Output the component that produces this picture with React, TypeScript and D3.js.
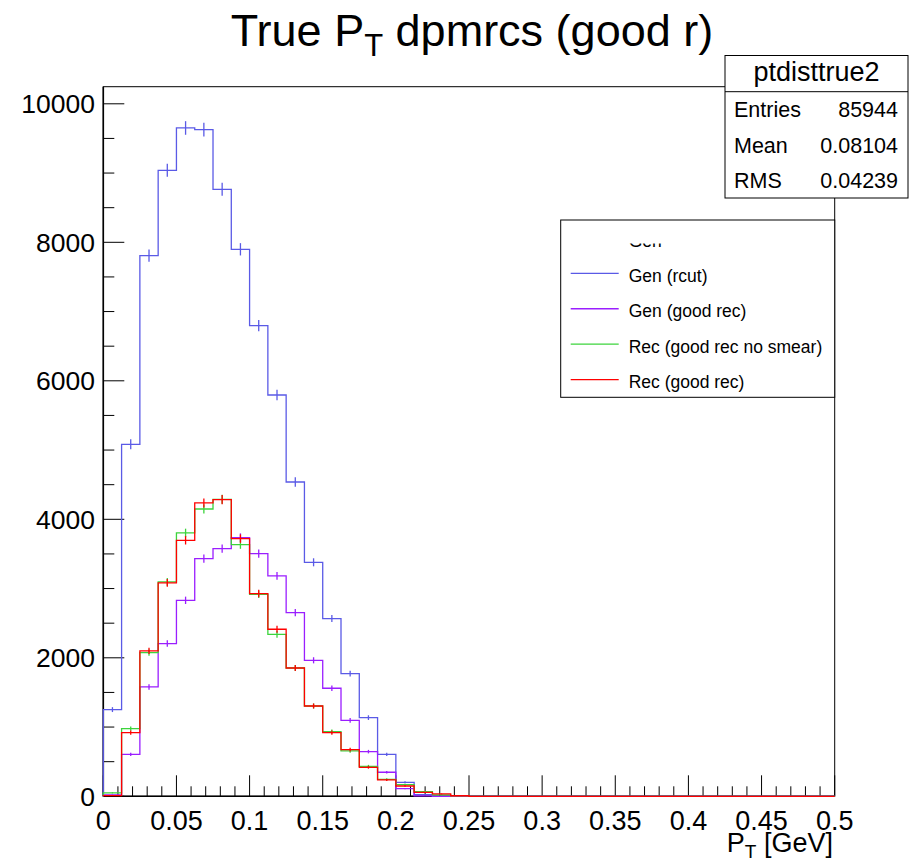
import React from "react";
import * as d3 from "d3";

const binEdges: number[] = d3.range(0, 41).map((i) => i * 0.0125);

const genRcut: number[] = [1252, 5083, 7808, 9040, 9651, 9627, 8765, 7899, 6797, 5795, 4539, 3379, 2566, 1772, 1136, 606, 202, 25, 0, 0, 0, 0, 0, 0, 0, 0, 0, 0, 0, 0, 0, 0, 0, 0, 0, 0, 0, 0, 0, 0];
const genGoodRec: number[] = [20, 606, 1579, 2205, 2830, 3432, 3577, 3736, 3505, 3182, 2653, 1964, 1560, 1097, 645, 347, 111, 5, 0, 0, 0, 0, 0, 0, 0, 0, 0, 0, 0, 0, 0, 0, 0, 0, 0, 0, 0, 0, 0, 0];
const recNoSmear: number[] = [50, 977, 2075, 3095, 3803, 4149, 4289, 3634, 2917, 2339, 1853, 1304, 934, 655, 433, 245, 169, 67, 20, 5, 0, 0, 0, 0, 0, 0, 0, 0, 0, 0, 0, 0, 0, 0, 0, 0, 0, 0, 0, 0];
const recGoodRec: number[] = [10, 919, 2099, 3081, 3697, 4236, 4284, 3721, 2927, 2412, 1853, 1304, 919, 674, 419, 236, 149, 58, 34, 8, 0, 0, 0, 0, 0, 0, 0, 0, 0, 0, 0, 0, 0, 0, 0, 0, 0, 0, 0, 0];

const xTicks: number[] = [0, 0.05, 0.1, 0.15, 0.2, 0.25, 0.3, 0.35, 0.4, 0.45, 0.5];
const xTickLabels: string[] = ["0", "0.05", "0.1", "0.15", "0.2", "0.25", "0.3", "0.35", "0.4", "0.45", "0.5"];
const yTicks: number[] = [0, 2000, 4000, 6000, 8000, 10000];

const legendLabels: string[] = ["Gen (rcut)", "Gen (good rec)", "Rec (good rec no smear)", "Rec (good rec)"];
const statsLabels: string[] = ["Entries", "Mean", "RMS"];
const statsValues: string[] = ["85944", "0.08104", "0.04239"];

const series = [
  { values: genRcut, color: "#5a5ae6" },
  { values: genGoodRec, color: "#9a1eff" },
  { values: recNoSmear, color: "#3cd43c" },
  { values: recGoodRec, color: "#ff0000" },
];

const FONT = "'Liberation Sans', Arial, Helvetica, sans-serif";

export default function App() {
  const L = 103.3, R = 834.7, T = 86.7, B = 796.3;
  const x = d3.scaleLinear().domain([0, 0.5]).range([L, R]);
  const y = d3.scaleLinear().domain([0, 10247]).range([B, T]);

  const histPath = (vals: number[]) => {
    let p = `M${x(binEdges[0])},${y(0)}`;
    vals.forEach((v, i) => {
      p += `V${y(v)}H${x(binEdges[i + 1])}`;
    });
    p += `V${y(0)}`;
    return p;
  };

  const xMinor = d3.range(0, 51).map((i) => i * 0.01);
  const yMinor = d3.range(0, 21).map((i) => i * 500);

  return (
    <svg
      width={910}
      height={862}
      style={{ display: "block", position: "absolute", left: 0, top: 0, background: "#fff" }}
      fontFamily={FONT}
    >
      <rect x={0} y={0} width={910} height={862} fill="#fff" />
      {/* title */}
      <text x={472} y={46} fontSize={45} textAnchor="middle" fill="#000">
        True P<tspan fontSize={31} dy={10}>T</tspan>
        <tspan dy={-10}> dpmrcs (good r)</tspan>
      </text>

      {/* frame */}
      <rect x={L} y={T} width={R - L} height={B - T} fill="none" stroke="#000" strokeWidth={1} />
      <line x1={L} x2={L} y1={T} y2={B} stroke="#000" strokeWidth={1.6} />
      <line x1={L} x2={R} y1={B} y2={B} stroke="#000" strokeWidth={1.4} />

      {/* x ticks */}
      {xMinor.map((t, i) => (
        <line key={i} x1={x(t)} x2={x(t)} y1={B} y2={B - (i % 5 === 0 ? 21 : 10)} stroke="#000" strokeWidth={1} />
      ))}
      {xTicks.map((t, i) => (
        <text key={i} x={x(t)} y={830} fontSize={27} textAnchor="middle" fill="#000">
          {xTickLabels[i]}
        </text>
      ))}
      <text x={833} y={852} fontSize={27} textAnchor="end" fill="#000">
        P<tspan fontSize={19} dy={6}>T</tspan>
        <tspan dy={-6}> [GeV]</tspan>
      </text>

      {/* y ticks */}
      {yMinor.map((t, i) => (
        <line key={i} x1={L} x2={L + (i % 4 === 0 ? 21 : 11)} y1={y(t)} y2={y(t)} stroke="#000" strokeWidth={1} />
      ))}
      {yTicks.map((t, i) => (
        <text key={i} x={95} y={y(t)} dy="0.36em" fontSize={26.5} textAnchor="end" fill="#000">
          {String(t)}
        </text>
      ))}

      {/* histograms */}
      {series.map((s, si) => (
        <g key={si}>
          <path d={histPath(s.values)} fill="none" stroke={s.color} strokeWidth={1.3} />
          {s.values.map((v, i) =>
            v > 0 ? (
              <line
                key={i}
                x1={x((binEdges[i] + binEdges[i + 1]) / 2)}
                x2={x((binEdges[i] + binEdges[i + 1]) / 2)}
                y1={y(v - Math.sqrt(v))}
                y2={y(v + Math.sqrt(v))}
                stroke={s.color}
                strokeWidth={1.3}
              />
            ) : null
          )}
        </g>
      ))}

      {/* stats box */}
      <rect x={725} y={55.5} width={183} height={142.5} fill="#fff" stroke="#000" strokeWidth={1} />
      <line x1={725} x2={908} y1={91.7} y2={91.7} stroke="#000" strokeWidth={1} />
      <text x={816.5} y={81} fontSize={27} textAnchor="middle" fill="#000">ptdisttrue2</text>
      {statsLabels.map((lab, i) => (
        <g key={i}>
          <text x={734} y={117.3 + i * 35.2} fontSize={21.5} fill="#000">{lab}</text>
          <text x={898} y={117.3 + i * 35.2} fontSize={21.5} textAnchor="end" fill="#000">{statsValues[i]}</text>
        </g>
      ))}

      {/* legend */}
      <rect x={560.7} y={220} width={274} height={177.3} fill="#fff" stroke="#000" strokeWidth={1} />
      <defs>
        <clipPath id="hdrclip">
          <rect x={620} y={243.5} width={80} height={8} />
        </clipPath>
      </defs>
      <text x={628.7} y={246.5} fontSize={17.5} fill="#000" clipPath="url(#hdrclip)">Gen</text>
      {legendLabels.map((lab, i) => (
        <g key={i}>
          <line x1={570.7} x2={618.7} y1={273.3 + i * 35.45} y2={273.3 + i * 35.45} stroke={series[i].color} strokeWidth={1.3} />
          <text x={628.7} y={281.7 + i * 35.45} fontSize={17.5} fill="#000">{lab}</text>
        </g>
      ))}
    </svg>
  );
}
